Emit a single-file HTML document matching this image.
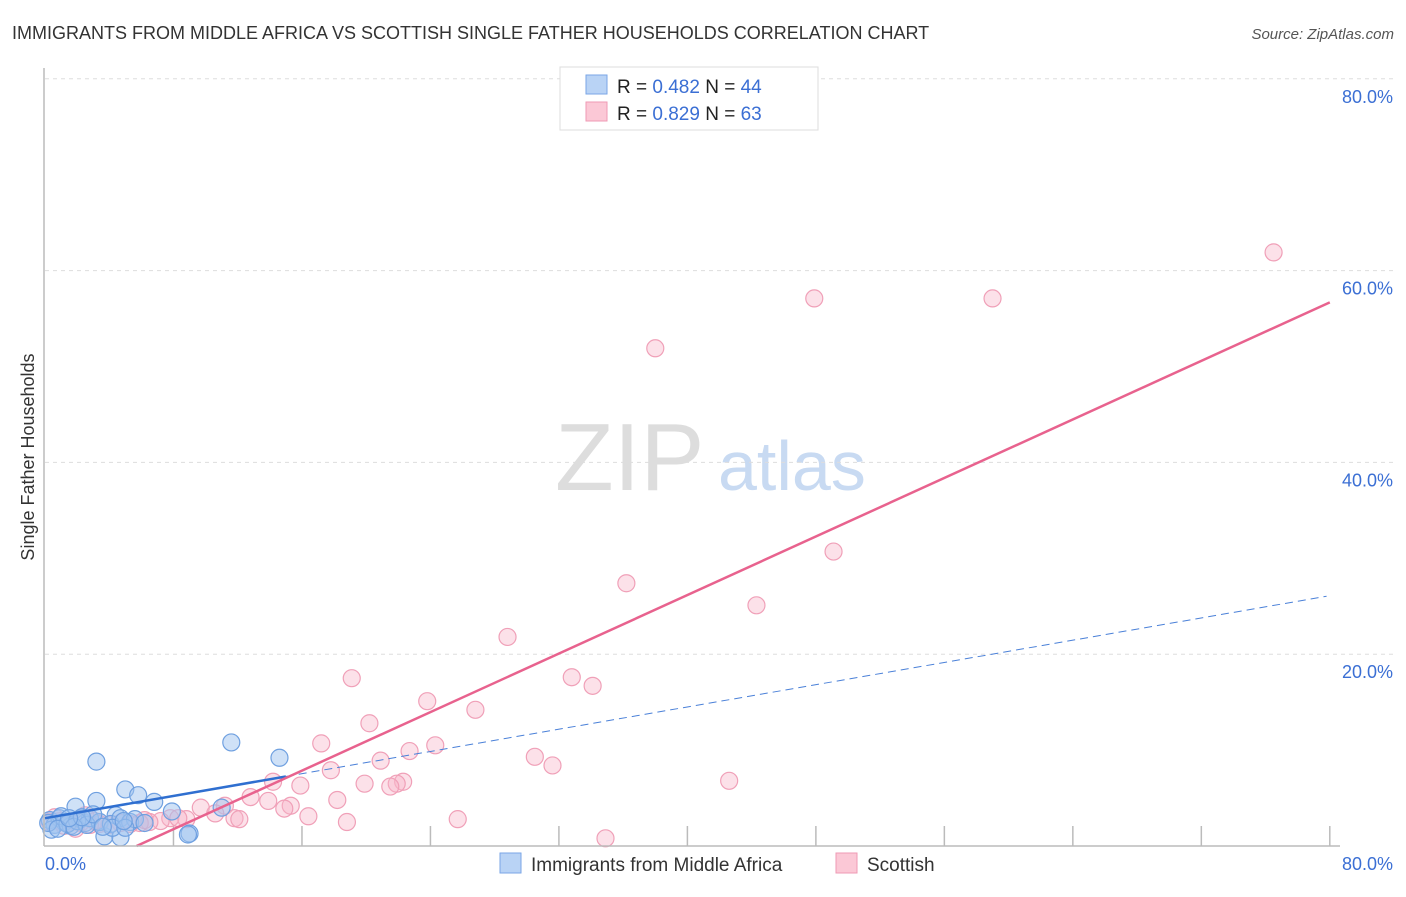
<!DOCTYPE html>
<html><head><meta charset="utf-8"><style>
body{margin:0;background:#fff;font-family:"Liberation Sans",sans-serif;}
svg text{font-family:"Liberation Sans",sans-serif;}
</style></head><body>
<svg id="chart" width="1406" height="892">
<text x="12" y="39" font-size="18" fill="#333">IMMIGRANTS FROM MIDDLE AFRICA VS SCOTTISH SINGLE FATHER HOUSEHOLDS CORRELATION CHART</text>
<text x="1394" y="39" font-size="15" fill="#555" font-style="italic" text-anchor="end">Source: ZipAtlas.com</text>
<text x="34" y="457" font-size="18" fill="#333" text-anchor="middle" transform="rotate(-90 34 457)">Single Father Households</text>
<text x="555" y="490" font-size="96" fill="#ddd" font-family="Liberation Serif">ZIP</text>
<text x="718" y="490" font-size="70" fill="#c8daf2">atlas</text>
<g id="grid"></g><g id="pts"></g><g id="lines"></g>
<line x1="44" y1="68" x2="44" y2="846" stroke="#bbb" stroke-width="1.5"/>
<line x1="44" y1="846" x2="1340" y2="846" stroke="#bbb" stroke-width="1.5"/>
<text x="45" y="870" font-size="18" fill="#3b6fd4">0.0%</text>
<text x="1393" y="870" font-size="18" fill="#3b6fd4" text-anchor="end">80.0%</text>
<g>
<rect x="560" y="67" width="258" height="63" fill="#fff" stroke="#ddd"/>
<rect x="586" y="75" width="21" height="19" fill="#b9d3f5" stroke="#7aa6e6"/>
<rect x="586" y="102" width="21" height="19" fill="#fbc8d6" stroke="#ef9ab4"/>
<text x="617" y="93" font-size="19" fill="#222">R = <tspan fill="#3b6fd4">0.482</tspan>   N = <tspan fill="#3b6fd4">44</tspan></text>
<text x="617" y="120" font-size="19" fill="#222">R = <tspan fill="#3b6fd4">0.829</tspan>   N = <tspan fill="#3b6fd4">63</tspan></text>
</g>
<g>
<rect x="500" y="853" width="21" height="20" fill="#b9d3f5" stroke="#7aa6e6"/>
<text x="531" y="871" font-size="19" fill="#333">Immigrants from Middle Africa</text>
<rect x="836" y="853" width="21" height="20" fill="#fbc8d6" stroke="#ef9ab4"/>
<text x="867" y="871" font-size="19" fill="#333">Scottish</text>
</g>
</svg>
<script>
const yTicks=[20,40,60,80];
const xTicks=[8,16,24,32,40,48,56,64,72,80];
const blueX=[11.6,14.6,3.2,5,5.8,3.2,6.8,1.9,7.9,4.4,11,9,8.9,3.7,4.7,0.3,0.6,0.9,1.2,1.6,2.2,2.5,2.8,3.4,4.1,4.7,5.3,5.6,4.2,5,0.4,1,1.4,2,2.6,3,3.6,0.2,1.8,2.3,4.9,6.2,0.8,1.5];
const blueY=[10.8,9.2,8.8,5.9,5.3,4.7,4.6,4.1,3.6,3.2,4,1.3,1.2,1,0.9,2.7,2.2,2.9,2.5,2.1,2.8,2.4,2.9,2.5,2.3,2.9,2.5,2.8,1.9,1.9,1.7,3.1,2.3,2.6,2.2,3.3,2,2.4,2,3,2.6,2.4,1.8,2.9];
const pinkX=[76.5,47.9,59,38,49.1,36.2,44.3,28.8,19.1,32.8,34.1,23.8,26.8,20.2,17.2,24.3,22.7,30.5,20.9,31.6,17.8,42.6,14.2,22.3,21.9,19.9,21.5,15.9,12.8,13.9,18.2,15.3,14.9,11.2,9.7,10.6,16.4,18.8,25.7,34.9,11.8,12.1,7.8,8.8,7.2,6.5,5.9,5.3,4.7,4,3.4,2.8,2.2,1.6,0.9,0.3,0.6,1.2,1.9,2.5,3.1,6.2,8.3];
const pinkY=[61.9,57.1,57.1,51.9,30.7,27.4,25.1,21.8,17.5,17.6,16.7,15.1,14.2,12.8,10.7,10.5,9.9,9.3,8.9,8.4,7.9,6.8,6.7,6.7,6.5,6.5,6.2,6.3,5.1,4.7,4.8,4.2,3.9,4.2,4,3.4,3.1,2.5,2.8,0.8,2.9,2.8,2.9,2.8,2.6,2.5,2.4,2.3,2.4,2.2,2.3,2.2,2.4,2.5,2.6,2.5,3,2.1,1.8,3.2,2.6,2.7,2.9];
const blueFit=[2.9,0.29];
const pinkFit=[-4.35,0.763];
const X=v=>45+v*16.06;
const Y=v=>846-v*9.59;
const NS='http://www.w3.org/2000/svg';
function mk(t,a,p){const e=document.createElementNS(NS,t);for(const k in a)e.setAttribute(k,a[k]);p.appendChild(e);return e;}
const grid=document.getElementById('grid');
yTicks.forEach(t=>{
 const l=mk('line',{x1:45,x2:1395,y1:Y(t),y2:Y(t),stroke:'#ddd','stroke-dasharray':'4 4'},grid);
 
 
 const tx=mk('text',{x:1393,y:Y(t)+24,'font-size':18,fill:'#3b6fd4','text-anchor':'end'},grid);
 tx.textContent=t.toFixed(1)+'%';
 
 
});
xTicks.forEach(t=>{
 const l=mk('line',{x1:X(t),x2:X(t),y1:826,y2:846,stroke:'#bbb','stroke-width':1.5},grid);
 
 
});
const pts=document.getElementById('pts');
pinkX.forEach((v,i)=>{
 const c=mk('circle',{cx:X(v),cy:Y(pinkY[i]),r:8.5,fill:'rgba(248,180,200,0.4)',stroke:'#f0a0b8','stroke-width':1.2},pts);
 
 
});
blueX.forEach((v,i)=>{
 const c=mk('circle',{cx:X(v),cy:Y(blueY[i]),r:8.5,fill:'rgba(160,196,240,0.5)',stroke:'#6fa0e0','stroke-width':1.2},pts);
 
 
});
const lines=document.getElementById('lines');
const bl=mk('line',{x1:X(0),y1:Y(blueFit[0]),x2:X(15),y2:Y(blueFit[0]+blueFit[1]*15),stroke:'#2f6fd0','stroke-width':2.5},lines);


const bd=mk('line',{x1:X(15),y1:Y(blueFit[0]+blueFit[1]*15),x2:X(79.8),y2:Y(blueFit[0]+blueFit[1]*79.8),stroke:'#4a80d8','stroke-width':1,'stroke-dasharray':'8 5'},lines);


const x0=-pinkFit[0]/pinkFit[1];
const pl=mk('line',{x1:X(x0),y1:Y(0),x2:X(80),y2:Y(pinkFit[0]+pinkFit[1]*80),stroke:'#e8628e','stroke-width':2.5},lines);


</script>
</body></html>
